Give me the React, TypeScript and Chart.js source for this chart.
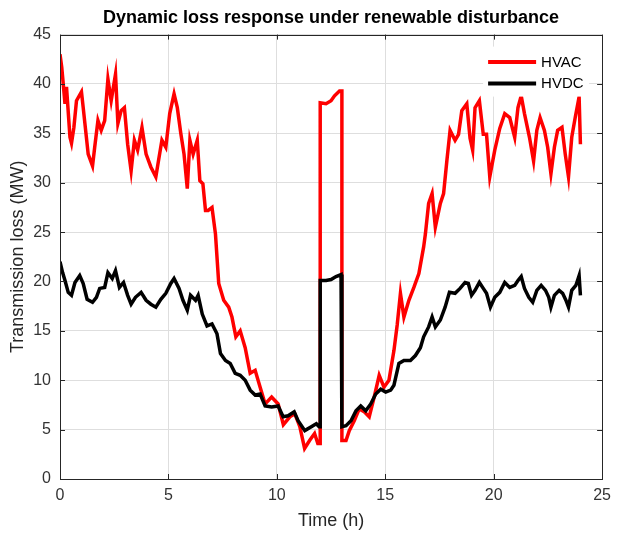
import React, { useEffect, useRef } from "react";
import { Chart, registerables } from "chart.js";

Chart.register(...registerables);

const TITLE = "Dynamic loss response under renewable disturbance";
const X_LABEL = "Time (h)";
const Y_LABEL = "Transmission loss (MW)";
const SERIES_NAMES = ["HVAC", "HVDC"];
const SERIES_COLORS = ["#ff0000", "#000000"];

const HVAC_T = [
  0.0, 0.08, 0.15, 0.23, 0.3, 0.46, 0.53, 0.64, 0.76, 0.99, 1.07, 1.3, 1.5, 1.6, 1.75, 1.9, 2.06, 2.21, 2.36, 2.56,
  2.67, 2.82, 2.97, 3.12, 3.28, 3.43, 3.58, 3.78, 3.97, 4.19, 4.42, 4.54, 4.7, 4.88, 5.06, 5.26, 5.41, 5.57, 5.72, 5.87,
  5.99, 6.14, 6.33, 6.45, 6.59, 6.71, 6.83, 7.01, 7.17, 7.32, 7.55, 7.78, 7.93, 8.11, 8.31, 8.54, 8.77, 9.0, 9.23, 9.46,
  9.76, 10.06, 10.3, 10.6, 10.83, 11.06, 11.28, 11.51, 11.74, 11.89, 12.0, 12.0, 12.27, 12.5, 12.66, 12.89, 13.0, 13.0,
  13.19, 13.34, 13.57, 13.8, 14.03, 14.26, 14.49, 14.72, 14.94, 15.17, 15.4, 15.55, 15.7, 15.86, 16.09, 16.32, 16.55,
  16.77, 16.85, 17.0, 17.16, 17.31, 17.54, 17.69, 17.84, 17.99, 18.22, 18.38, 18.53, 18.76, 18.91, 19.03, 19.14, 19.34,
  19.52, 19.67, 19.82, 20.05, 20.28, 20.51, 20.74, 20.97, 21.12, 21.27, 21.42, 21.65, 21.84, 21.99, 22.14, 22.34, 22.49,
  22.64, 22.8, 22.95, 23.15, 23.3, 23.45, 23.6, 23.76, 23.94, 24.0,
];
const HVAC_V = [
  43.0, 41.7, 40.0, 38.0, 39.7, 34.6, 34.0, 35.6, 38.3, 39.2, 37.6, 32.9, 31.7, 33.6, 36.3, 35.3, 36.3, 40.5, 38.3, 41.0,
  36.0, 37.3, 37.6, 33.9, 31.2, 34.3, 33.3, 35.6, 32.9, 31.6, 30.6, 32.2, 34.3, 33.6, 37.0, 39.0, 37.6, 35.0, 32.9, 29.4,
  34.3, 32.9, 34.3, 30.2, 29.9, 27.2, 27.2, 27.5, 24.8, 19.8, 18.1, 17.4, 16.4, 14.4, 15.0, 13.3, 10.7, 11.0, 9.3, 7.6,
  8.3, 7.6, 5.5, 6.3, 6.6, 5.3, 3.1, 3.9, 4.6, 3.6, 3.6, 38.1, 38.0, 38.3, 38.8, 39.3, 39.3, 3.9,
  3.9, 4.9, 5.9, 7.1, 6.8, 6.3, 8.3, 10.5, 9.3, 10.0, 13.0, 15.6, 18.8, 16.4, 18.1, 19.4, 20.8,
  23.5, 24.8, 27.9, 28.9, 25.5, 27.9, 28.9, 32.2, 35.3, 34.3, 34.9, 37.3, 38.0, 34.5, 33.3, 37.6, 38.3,
  34.9, 34.9, 30.6, 33.3, 35.5, 37.0, 36.6, 34.6, 37.6, 38.8, 37.0, 34.6, 32.2, 35.3, 36.6, 35.3, 33.6,
  30.9, 33.6, 35.3, 35.6, 32.9, 30.6, 34.6, 36.6, 38.7, 33.9,
];

const HVDC_T = [
  0.0, 0.12, 0.23, 0.38, 0.53, 0.69, 0.91, 1.07, 1.25, 1.5, 1.68, 1.83, 2.06, 2.21, 2.41, 2.56, 2.74, 2.93, 3.12, 3.28,
  3.48, 3.74, 3.97, 4.19, 4.42, 4.65, 4.88, 5.11, 5.26, 5.49, 5.67, 5.87, 6.02, 6.25, 6.37, 6.56, 6.78, 7.01, 7.24, 7.4,
  7.63, 7.85, 8.08, 8.31, 8.54, 8.77, 9.0, 9.23, 9.46, 9.76, 10.06, 10.29, 10.52, 10.8, 10.98, 11.29, 11.59, 11.82, 11.95,
  12.0, 12.0, 12.27, 12.5, 12.73, 12.96, 13.0, 13.0, 13.19, 13.42, 13.65, 13.87, 14.1, 14.33, 14.56, 14.79, 15.02, 15.25,
  15.4, 15.63, 15.86, 16.16, 16.39, 16.62, 16.77, 17.0, 17.16, 17.31, 17.54, 17.76, 17.96, 18.22, 18.45, 18.68, 18.83,
  18.98, 19.14, 19.34, 19.52, 19.67, 19.85, 20.05, 20.28, 20.51, 20.74, 20.97, 21.12, 21.27, 21.42, 21.62, 21.8, 21.99,
  22.19, 22.39, 22.54, 22.64, 22.8, 23.02, 23.18, 23.33, 23.45, 23.6, 23.79, 23.94, 24.0,
];
const HVDC_V = [
  22.0, 20.9, 20.1, 18.9, 18.6, 19.9, 20.6, 19.8, 18.2, 17.9, 18.4, 19.3, 19.4, 20.9, 20.3, 21.1, 19.4, 19.9, 18.6, 17.7,
  18.4, 18.9, 18.1, 17.7, 17.4, 18.2, 18.8, 19.8, 20.3, 19.3, 18.1, 17.1, 18.6, 18.1, 18.6, 16.7, 15.5, 15.7, 14.7, 12.7,
  12.0, 11.7, 10.7, 10.5, 10.0, 9.0, 8.5, 8.6, 7.4, 7.3, 7.4, 6.3, 6.4, 6.8, 5.9, 4.9, 5.3, 5.6, 5.3,
  5.3, 20.1, 20.1, 20.2, 20.5, 20.7, 20.7, 5.3, 5.4, 5.9, 6.9, 7.4, 6.9, 7.6, 8.6, 9.1, 8.8, 9.0,
  9.5, 11.7, 12.0, 12.0, 12.5, 13.3, 14.4, 15.4, 16.4, 15.4, 16.1, 17.4, 18.9, 18.8, 19.3, 19.9, 19.8,
  18.6, 19.1, 19.9, 19.3, 18.8, 17.4, 18.4, 18.9, 19.9, 19.4, 19.6, 20.1, 20.5, 19.3, 18.4, 17.9, 19.1,
  19.6, 19.1, 18.4, 17.4, 18.6, 19.1, 18.8, 18.1, 17.4, 19.1, 19.6, 20.6, 18.6,
];

const X_MIN = 0;
const X_MAX = 25;
const X_STEP = 5;
const Y_MIN = 0;
const Y_MAX = 45;
const Y_STEP = 5;

const FONT = "'Liberation Sans', Arial, Helvetica, sans-serif";
const AXIS_COLOR = "#262626";

const framePlugin = {
  id: "matlabFrame",
  afterDraw(chart: any) {
    const { ctx, chartArea } = chart;
    const { left, right, top, bottom } = chartArea;
    const xs = chart.scales.x;
    const ys = chart.scales.y;
    ctx.save();
    ctx.strokeStyle = AXIS_COLOR;
    ctx.lineWidth = 1;
    ctx.beginPath();
    for (let v = X_MIN; v <= X_MAX; v += X_STEP) {
      const px = Math.round(xs.getPixelForValue(v)) + 0.5;
      ctx.moveTo(px, bottom);
      ctx.lineTo(px, bottom - 5);
      ctx.moveTo(px, top);
      ctx.lineTo(px, top + 5);
    }
    for (let v = Y_MIN; v <= Y_MAX; v += Y_STEP) {
      const py = Math.round(ys.getPixelForValue(v)) + 0.5;
      ctx.moveTo(left, py);
      ctx.lineTo(left + 5, py);
      ctx.moveTo(right, py);
      ctx.lineTo(right - 5, py);
    }
    ctx.stroke();
    ctx.strokeRect(Math.round(left) + 0.5, Math.round(top) + 0.5, Math.round(right - left), Math.round(bottom - top));

    // legend inside plot, top-right
    const lx0 = right - 114;
    const ly0 = top + 12;
    ctx.fillStyle = "#ffffff";
    ctx.fillRect(lx0 - 5, ly0, 106, 50);
    SERIES_NAMES.forEach((name, i) => {
      const y = ly0 + 15.5 + i * 21.5;
      ctx.strokeStyle = SERIES_COLORS[i];
      ctx.lineWidth = 4;
      ctx.beginPath();
      ctx.moveTo(lx0, y);
      ctx.lineTo(lx0 + 48, y);
      ctx.stroke();
      ctx.fillStyle = "#000000";
      ctx.font = `15px ${FONT}`;
      ctx.textAlign = "left";
      ctx.textBaseline = "middle";
      ctx.fillText(name, lx0 + 53, y + 0.5);
    });
    ctx.restore();
  },
};

export default function App() {
  const ref = useRef<HTMLCanvasElement | null>(null);
  useEffect(() => {
    if (!ref.current) return;
    const chart = new Chart(ref.current, {
      type: "line",
      data: {
        datasets: [
          {
            label: SERIES_NAMES[0],
            data: HVAC_T.map((t, i) => ({ x: t, y: HVAC_V[i] })),
            borderColor: SERIES_COLORS[0],
            backgroundColor: SERIES_COLORS[0],
            borderWidth: 3.5,
            pointRadius: 0,
            tension: 0,
            order: 1,
          },
          {
            label: SERIES_NAMES[1],
            data: HVDC_T.map((t, i) => ({ x: t, y: HVDC_V[i] })),
            borderColor: SERIES_COLORS[1],
            backgroundColor: SERIES_COLORS[1],
            borderWidth: 3.5,
            pointRadius: 0,
            tension: 0,
            order: 0,
          },
        ],
      },
      options: {
        responsive: false,
        animation: false,
        devicePixelRatio: 1,
        layout: { padding: { top: 0, right: 12, bottom: 0, left: 0 } },
        plugins: {
          legend: { display: false },
          tooltip: { enabled: false },
          title: {
            display: true,
            text: TITLE,
            fullSize: false,
            color: "#000000",
            font: { family: FONT, size: 18, weight: "bold" },
            padding: { top: 7, bottom: 6 },
          },
        },
        scales: {
          x: {
            type: "linear",
            min: X_MIN,
            max: X_MAX,
            afterFit: (s: any) => {
              s.height = 58;
            },
            ticks: { stepSize: X_STEP, color: "#333333", font: { family: FONT, size: 16 }, padding: 7 },
            grid: { color: "#dedede", drawTicks: false },
            border: { display: false },
            title: {
              display: true,
              text: X_LABEL,
              color: AXIS_COLOR,
              font: { family: FONT, size: 18 },
              padding: { top: 0, bottom: 5 },
            },
          },
          y: {
            type: "linear",
            min: Y_MIN,
            max: Y_MAX,
            afterFit: (s: any) => {
              s.width = 60;
            },
            ticks: { stepSize: Y_STEP, color: "#333333", font: { family: FONT, size: 16 }, padding: 9 },
            grid: { color: "#dedede", drawTicks: false },
            border: { display: false },
            title: {
              display: true,
              text: Y_LABEL,
              color: AXIS_COLOR,
              font: { family: FONT, size: 18 },
              padding: { top: 7, bottom: 0 },
            },
          },
        },
      },
      plugins: [framePlugin],
    });
    return () => chart.destroy();
  }, []);
  return (
    <div style={{ position: "fixed", left: 0, top: 0, width: 618, height: 537, background: "#ffffff" }}>
      <canvas ref={ref} width={618} height={537} />
    </div>
  );
}
